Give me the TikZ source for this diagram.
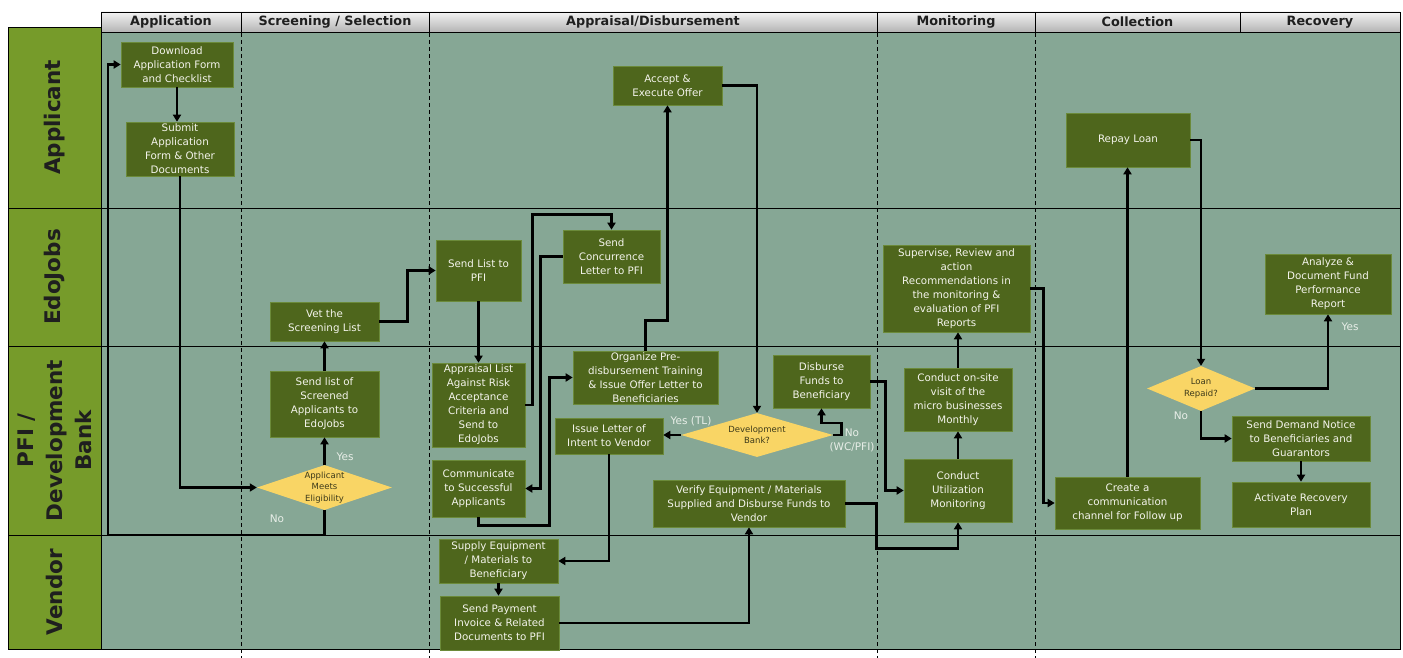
\documentclass[tikz,border=0pt]{standalone}
\usepackage{fontspec}
\setmainfont{DejaVu Sans}
\usetikzlibrary{arrows.meta,shapes.geometric}
\definecolor{areagreen}{HTML}{86A795}
\definecolor{lanegreen}{HTML}{769B2A}
\definecolor{boxgreen}{HTML}{4E661C}
\definecolor{boxedge}{HTML}{6B8A3A}
\definecolor{boxtext}{HTML}{F4F4EC}
\definecolor{diayellow}{HTML}{F9D565}
\definecolor{diatxt}{HTML}{3D3A1A}
\definecolor{lbltext}{HTML}{E8EEE8}
\definecolor{hdrtop}{HTML}{F2F2F2}
\definecolor{hdrbot}{HTML}{B4B4B4}
\definecolor{lanetext}{HTML}{1F1F1F}

\begin{document}
\begin{tikzpicture}[x=1pt, y=-1pt, >={Triangle[length=7pt,width=8pt]},
  box/.style={draw=boxedge, line width=0.6pt, fill=boxgreen, text=boxtext, align=center, inner sep=1pt, font=\fontsize{10.3}{14}\selectfont},
  dia/.style={diamond, fill=diayellow, inner sep=0pt},
  diatext/.style={text=diatxt, align=center, font=\fontsize{8.5}{11.5}\selectfont},
  flow/.style={->, line width=2.6pt},
  lbl/.style={text=lbltext, align=center, font=\fontsize{10.5}{14}\selectfont},
  hdr/.style={draw=black, line width=0.8pt, top color=hdrtop, bottom color=hdrbot, text=lanetext, minimum height=20pt, inner sep=0pt, font=\bfseries\fontsize{12.8}{14}\selectfont},
  lanelbl/.style={rotate=90, align=center, text=lanetext, font=\bfseries\fontsize{21.5}{29}\selectfont}]

  \useasboundingbox (0,0) rectangle (1403,658);

  \fill[areagreen] (101,32) rectangle (1400,649);
  \fill[lanegreen] (8,27) rectangle (101,649);
  \draw[line width=0.8pt] (8,27) rectangle (101,649);
  \draw[line width=0.8pt] (101,32) rectangle (1400,649);
  \foreach \y in {208,346,535}
    \draw[line width=0.8pt] (8,\y) -- (1400,\y);
  \foreach \x in {241,429,877,1035}
    \draw[line width=0.8pt, dash pattern=on 4pt off 3pt] (\x,33) -- (\x,658);

  \node[hdr, minimum width=140pt] (hApp) at (171,22) {Application};
  \node[hdr, minimum width=188pt] (hScr) at (335,22) {Screening / Selection};
  \node[hdr, minimum width=448pt] (hApr) at (653,22) {Appraisal/Disbursement};
  \node[hdr, minimum width=158pt] (hMon) at (956,22) {Monitoring};
  \node[hdr, minimum width=205pt] (hCol) at (1137.5,22) {Collection};
  \node[hdr, minimum width=160pt] (hRec) at (1320,22) {Recovery};

  \node[lanelbl] (lApp) at (54.5,117.5) {Applicant};
  \node[lanelbl] (lEdo) at (54.5,277) {EdoJobs};
  \node[lanelbl] (lPfi) at (54.5,440.5) {PFI /\\Development\\Bank};
  \node[lanelbl] (lVen) at (54.5,592) {Vendor};

  \node[box, minimum width=112pt, minimum height=45pt] (dl) at (177,64.5) {Download\\Application Form\\and Checklist};
  \node[box, minimum width=108pt, minimum height=54pt] (submit) at (180,149) {Submit\\Application\\Form \& Other\\Documents};
  \node[box, minimum width=109pt, minimum height=39pt] (vet) at (324.5,321.5) {Vet the\\Screening List};
  \node[box, minimum width=109pt, minimum height=66pt] (sendlist) at (324.5,404) {Send list of\\Screened\\Applicants to\\EdoJobs};
  \node[dia, minimum width=135pt, minimum height=45pt, label={[diatext]center:Applicant\\Meets\\Eligibility}] (elig) at (324.5,487.5) {};
  \node[box, minimum width=85pt, minimum height=61pt] (sendpfi) at (478.5,270.5) {Send List to\\PFI};
  \node[box, minimum width=97pt, minimum height=53pt] (concur) at (611.5,256.5) {Send\\Concurrence\\Letter to PFI};
  \node[box, minimum width=109pt, minimum height=39pt] (accept) at (667.5,85.5) {Accept \&\\Execute Offer};
  \node[box, minimum width=93pt, minimum height=84pt] (appraisal) at (478.5,405) {Appraisal List\\Against Risk\\Acceptance\\Criteria and\\Send to\\EdoJobs};
  \node[box, minimum width=93pt, minimum height=57pt] (comm) at (478.5,488.5) {Communicate\\to Successful\\Applicants};
  \node[box, minimum width=145pt, minimum height=53pt] (organize) at (645.5,377.5) {Organize Pre-\\disbursement Training\\\& Issue Offer Letter to\\Beneficiaries};
  \node[box, minimum width=108pt, minimum height=36pt] (letter) at (609,436) {Issue Letter of\\Intent to Vendor};
  \node[dia, minimum width=152pt, minimum height=44pt, label={[diatext]center:Development\\Bank?}] (devbank) at (757,435) {};
  \node[box, minimum width=97pt, minimum height=53pt] (disburse) at (821.5,381.5) {Disburse\\Funds to\\Beneficiary};
  \node[box, minimum width=192pt, minimum height=47pt] (verify) at (749,503.5) {Verify Equipment / Materials\\Supplied and Disburse Funds to\\Vendor};
  \node[box, minimum width=119pt, minimum height=44pt] (supply) at (498.5,561) {Supply Equipment\\/ Materials to\\Beneficiary};
  \node[box, minimum width=119pt, minimum height=54pt] (invoice) at (499.5,623) {Send Payment\\Invoice \& Related\\Documents to PFI};
  \node[box, minimum width=147pt, minimum height=87pt] (supervise) at (956.5,288.5) {Supervise, Review and\\action\\Recommendations in\\the monitoring \&\\evaluation of PFI\\Reports};
  \node[box, minimum width=108pt, minimum height=63pt] (onsite) at (958,399.5) {Conduct on-site\\visit of the\\micro businesses\\Monthly};
  \node[box, minimum width=108pt, minimum height=63pt] (util) at (958,490.5) {Conduct\\Utilization\\Monitoring};
  \node[box, minimum width=124pt, minimum height=54pt] (repay) at (1128,140) {Repay Loan};
  \node[box, minimum width=145pt, minimum height=52pt] (create) at (1127.5,503) {Create a\\communication\\channel for Follow up};
  \node[box, minimum width=126pt, minimum height=60pt] (analyze) at (1328,284) {Analyze \&\\Document Fund\\Performance\\Report};
  \node[dia, minimum width=108pt, minimum height=45pt, label={[diatext]center:Loan\\Repaid?}] (loanrep) at (1201,388.5) {};
  \node[box, minimum width=138pt, minimum height=45pt] (demand) at (1301,438.5) {Send Demand Notice\\to Beneficiaries and\\Guarantors};
  \node[box, minimum width=138pt, minimum height=45pt] (activate) at (1301,504.5) {Activate Recovery\\Plan};

  \node[lbl] (yesElig) at (345,457) {Yes};
  \node[lbl] (noElig) at (277,519) {No};
  \node[lbl] (yesTL) at (691,421) {Yes (TL)};
  \node[lbl] (noWC) at (852,440) {No\\(WC/PFI)};
  \node[lbl] (yesRep) at (1350,327) {Yes};
  \node[lbl] (noRep) at (1181,416) {No};

  \coordinate (loopA) at (108,535);

  \draw[flow] (dl.south) -- (dl.south |- submit.north);
  \draw[flow] (submit.south) |- (elig.west);
  \draw[flow] (elig.north) -- (sendlist.south);
  \draw[flow] (elig.south) |- (loopA) |- (dl.west);
  \draw[flow] (sendlist.north) -- (vet.south);
  \draw[flow] (vet.east) -- ++(28,0) |- (sendpfi.west);
  \draw[flow] (sendpfi.south) -- (appraisal.north);
  \draw[flow] (appraisal.east) -- ++(7,0) |- ([yshift=15pt]concur.north) -- (concur.north);
  \draw[flow] (concur.west) -- ++(-22,0) |- (comm.east);
  \draw[flow] (comm.south) -- ++(0,8) -| ([xshift=-23pt]organize.west) -- (organize.west);
  \draw[flow] (organize.north) -- ++(0,-30) -| (accept.south);
  \draw[flow] (accept.east) -| (devbank.north);
  \draw[flow] (devbank.west) -- (devbank.west -| letter.east);
  \draw[flow] (devbank.east) -- ++(8,0) -- ++(0,-12) -| (disburse.south);
  \draw[flow] (disburse.east) -- ++(15,0) |- (util.west);
  \draw[flow] (letter.south) |- (supply.east);
  \draw[flow] (supply.south) -- (supply.south |- invoice.north);
  \draw[flow] (invoice.east) -| (verify.south);
  \draw[flow] (verify.east) -- ++(31,0) -- ++(0,45) -| (util.south);
  \draw[flow] (util.north) -- (onsite.south);
  \draw[flow] (onsite.north) -- (onsite.north |- supervise.south);
  \draw[flow] (supervise.east) -- ++(13,0) |- (create.west);
  \draw[flow] (create.north) -- (create.north |- repay.south);
  \draw[flow] (repay.east) -| (loanrep.north);
  \draw[flow] (loanrep.east) -| (analyze.south);
  \draw[flow] (loanrep.south) |- (demand.west);
  \draw[flow] (demand.south) -- (activate.north);
\end{tikzpicture}
\end{document}
